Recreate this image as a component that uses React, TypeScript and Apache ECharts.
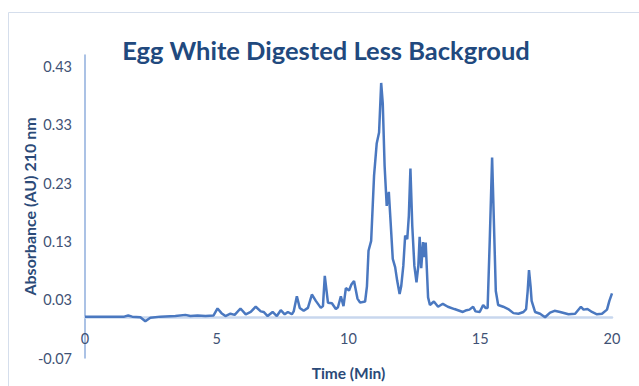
import React, { useEffect, useRef } from "react";
import * as echarts from "echarts";

const chartTitle = "Egg White Digested Less Backgroud";
const xAxisTitle = "Time (Min)";
const yAxisTitle = "Absorbance (AU) 210 nm";
const yTickValues = [-0.07, 0.03, 0.13, 0.23, 0.33, 0.43];
const xTickValues = [0, 5, 10, 15, 20];

const times = [
  0, 0.57, 1.14, 1.49, 1.64, 1.79, 2.1, 2.29, 2.48, 2.86,
  3.43, 3.81, 4.0, 4.27, 4.57, 4.88, 5.03, 5.18, 5.33, 5.52,
  5.68, 5.9, 6.1, 6.29, 6.48, 6.67, 6.78, 6.93, 7.12, 7.28,
  7.43, 7.58, 7.7, 7.85, 7.92, 8.04, 8.15, 8.3, 8.46, 8.61,
  8.76, 8.95, 9.03, 9.1, 9.22, 9.37, 9.52, 9.6, 9.71, 9.81,
  9.9, 10.02, 10.11, 10.21, 10.34, 10.44, 10.63, 10.7, 10.76, 10.86,
  10.97, 11.07, 11.16, 11.24, 11.3, 11.37, 11.45, 11.53, 11.6, 11.68,
  11.77, 11.85, 11.94, 12.0, 12.08, 12.15, 12.23, 12.29, 12.35, 12.42,
  12.5, 12.58, 12.65, 12.7, 12.76, 12.83, 12.88, 12.93, 13.02, 13.09,
  13.24, 13.4, 13.58, 13.77, 14.02, 14.34, 14.48, 14.59, 14.73, 14.82,
  14.98, 15.11, 15.2, 15.28, 15.36, 15.45, 15.52, 15.59, 15.68, 15.87,
  16.06, 16.26, 16.45, 16.64, 16.74, 16.8, 16.85, 16.91, 16.95, 17.08,
  17.27, 17.46, 17.65, 17.82, 18.03, 18.35, 18.6, 18.82, 18.92, 19.07,
  19.24, 19.43, 19.62, 19.81, 19.9, 20.0,
];

const absorbance = [
  0.001, 0.001, 0.001, 0.001, 0.003, 0.001, 0.0, -0.007, -0.001, 0.001,
  0.002, 0.004, 0.002, 0.003, 0.002, 0.003, 0.015, 0.007, 0.002, 0.006,
  0.004, 0.015, 0.005, 0.009, 0.018, 0.01, 0.009, 0.002, 0.009, 0.002,
  0.012, 0.005, 0.009, 0.005, 0.01, 0.036, 0.016, 0.011, 0.016, 0.039,
  0.028, 0.016, 0.019, 0.071, 0.025, 0.024, 0.014, 0.017, 0.036, 0.019,
  0.05, 0.046, 0.056, 0.062, 0.032, 0.025, 0.027, 0.053, 0.114, 0.131,
  0.243, 0.298, 0.317, 0.402, 0.367, 0.26, 0.191, 0.215, 0.162, 0.1,
  0.086, 0.062, 0.04, 0.053, 0.088, 0.14, 0.134, 0.174, 0.255, 0.157,
  0.088, 0.06, 0.088, 0.138, 0.084, 0.129, 0.103, 0.128, 0.034, 0.021,
  0.027, 0.018, 0.023, 0.018, 0.014, 0.009, 0.012, 0.013, 0.018, 0.01,
  0.009, 0.021, 0.016, 0.016, 0.131, 0.274, 0.16, 0.045, 0.021, 0.018,
  0.014, 0.007, 0.006, 0.009, 0.014, 0.045, 0.081, 0.053, 0.028, 0.009,
  0.006, 0.0, 0.008, 0.011, 0.009, 0.005, 0.006, 0.018, 0.013, 0.014,
  0.009, 0.005, 0.006, 0.013, 0.028, 0.041,
];

export default function App() {
  const ref = useRef<HTMLDivElement>(null);

  useEffect(() => {
    document.body.style.margin = "0";
    if (!ref.current) return;
    const chart = echarts.init(ref.current, null, { renderer: "svg" });
    const font = "Lato, 'Open Sans', sans-serif";
    const data = times.map((t, i) => [t, absorbance[i]]);
    chart.setOption({
      animation: false,
      backgroundColor: "#ffffff",
      title: {
        text: chartTitle,
        left: 321,
        top: 32,
        textAlign: "center",
        textStyle: {
          fontFamily: font,
          fontWeight: "bold",
          fontSize: 25.5,
          color: "#21497E",
        },
      },
      graphic: [
        {
          type: "rect",
          shape: { x: 8.5, y: 12.5, width: 700, height: 500 },
          style: { fill: "none", stroke: "#D5DEEC", lineWidth: 1 },
          silent: true,
          z: -10,
        },
      ],
      grid: {
        left: 85,
        right: 27,
        top: 55,
        bottom: 28,
        containLabel: false,
        outerBoundsMode: "none",
      },
      xAxis: {
        type: "value",
        min: 0,
        max: 20,
        interval: 5,
        name: xAxisTitle,
        nameLocation: "middle",
        nameGap: 7,
        nameMoveOverlap: false,
        nameTextStyle: {
          fontFamily: font,
          fontWeight: "bold",
          fontSize: 15.5,
          color: "#2B4A78",
        },
        axisLine: {
          onZero: true,
          lineStyle: { color: "#C8D7EE", width: 2.5 },
        },
        axisTick: { show: false },
        splitLine: { show: false },
        axisLabel: {
          margin: -27,
          fontFamily: font,
          fontSize: 14.5,
          color: "#3F5275",
          customValues: xTickValues,
        },
      },
      yAxis: {
        type: "value",
        min: -0.07,
        max: 0.45,
        name: yAxisTitle,
        nameLocation: "middle",
        nameRotate: 90,
        nameGap: 48,
        nameMoveOverlap: false,
        nameTextStyle: {
          fontFamily: font,
          fontWeight: "bold",
          fontSize: 16,
          color: "#2B4A78",
        },
        axisLine: { show: true, lineStyle: { color: "#8FAEDD", width: 1.5 } },
        axisTick: { show: false },
        splitLine: { show: false },
        axisLabel: {
          margin: 13,
          fontFamily: font,
          fontSize: 14.5,
          color: "#3F5275",
          customValues: yTickValues,
          formatter: (v: number) => v.toFixed(2),
        },
      },
      series: [
        {
          type: "line",
          data,
          showSymbol: false,
          symbol: "none",
          lineStyle: { color: "#4A78C0", width: 2.5 },
          z: 3,
        },
      ],
    });
    return () => chart.dispose();
  }, []);

  return <div ref={ref} style={{ width: 639, height: 386 }} />;
}
